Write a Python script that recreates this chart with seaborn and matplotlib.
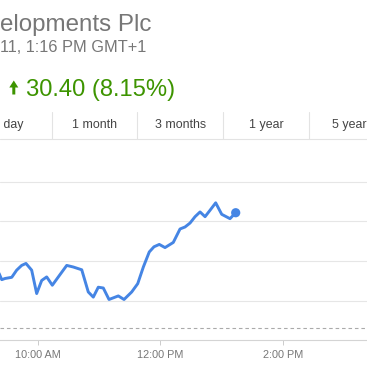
import matplotlib
matplotlib.use("Agg")
import matplotlib.pyplot as plt
from matplotlib.lines import Line2D
from matplotlib.patches import Polygon
import pandas as pd
import seaborn as sns

# ---- data ----
times = ["9:22", "9:24.8", "9:28", "9:34.6", "9:39.4", "9:44.3", "9:48.5", "9:54.1", "9:59",
         "10:03.9", "10:08.8", "10:14.3", "10:20.2", "10:28.4", "10:34.8", "10:43.1", "10:49.5",
         "10:54.4", "10:59.3", "11:04.2", "11:09.8", "11:18.9", "11:24.5", "11:32", "11:37.9",
         "11:43.4", "11:49.2", "11:53.8", "11:59", "12:04.6", "12:12.7", "12:19.3", "12:24.2",
         "12:29.1", "12:34", "12:38.9", "12:43.8", "12:48.6", "12:54.2", "13:00.1", "13:08.2",
         "13:13.8"]
prices = [387.0, 385.3, 385.6, 385.9, 387.7, 388.9, 389.4, 387.7, 381.8,
          385.1, 386.0, 383.9, 386.0, 388.9, 388.5, 387.8, 382.2,
          380.9, 383.4, 383.2, 380.3, 381.2, 380.3, 382.2, 384.3,
          388.5, 392.3, 393.6, 394.2, 393.4, 394.7, 398.1, 398.6,
          399.6, 401.2, 402.4, 401.2, 402.8, 404.7, 401.8, 400.7,
          402.2]
prev_close = 373.0
grid_values = [380, 390, 400, 410]
tick_times = ["10:00", "12:00", "14:00"]
tick_labels = ["10:00 AM", "12:00 PM", "2:00 PM"]
tabs = ["1 day", "1 month", "3 months", "1 year", "5 years"]
title = "elopments Plc"
subtitle = "11, 1:16 PM GMT+1"
change = "30.40 (8.15%)"
day = "2015-03-11"


def to_ts(s):
    h, m = s.split(":")
    return pd.Timestamp(day) + pd.Timedelta(hours=int(h), minutes=float(m))


df = pd.DataFrame({"time": [to_ts(t) for t in times], "price": prices})

sns.set_theme(style="white")
plt.rcParams["font.family"] = ["Liberation Sans", "DejaVu Sans"]

W = H = 367
fig = plt.figure(figsize=(W / 100, H / 100), dpi=100)
fig.patch.set_facecolor("white")


def fy(y):
    return 1 - y / H


def fx(x):
    return x / W


ax = fig.add_axes([0, fy(340.3), 1, fy(142.2) - fy(340.3)])
ax.set_facecolor("white")

for g in grid_values:
    ax.axhline(g, color="#e6e6e6", lw=0.8, zorder=0)
ax.axhline(prev_close, color="#aaaaaa", lw=0.8, ls=(0, (3.2, 2.6)), zorder=1)

line_color = "#4585e4"
sns.lineplot(data=df, x="time", y="price", ax=ax, color=line_color, lw=2.1, zorder=3)
ax.scatter(df["time"].iloc[-1], df["price"].iloc[-1], s=44, color=line_color, zorder=4,
           edgecolor="none")

ax.set_xlim(to_ts("9:23.1"), to_ts("15:22.3"))
ax.set_ylim(370, 420)
ax.set_yticks([])
ax.set_xlabel("")
ax.set_ylabel("")
ax.set_xticks([to_ts(t) for t in tick_times])
ax.set_xticklabels(tick_labels)
ax.tick_params(axis="x", direction="out", length=3.8, width=0.7, color="#cccccc",
               labelsize=7.8, labelcolor="#777777", pad=3.5, bottom=True)
for s in ["top", "left", "right"]:
    ax.spines[s].set_visible(False)
ax.spines["bottom"].set_color("#d4d4d4")
ax.spines["bottom"].set_linewidth(0.8)

# ---- header texts ----
fig.text(fx(-0.5), fy(31.5), title, fontsize=17.4, color="#777777", va="baseline", ha="left")
fig.text(fx(0.5), fy(51.7), subtitle, fontsize=11.8, color="#777777", va="baseline", ha="left")
fig.text(fx(25.5), fy(96), change, fontsize=17.1, color="#3d9400", va="baseline", ha="left")
# filled up-arrow glyph
arrow_pts = [(9.3, 87.5), (13.8, 80.5), (18.3, 87.5), (15.3, 87.5), (15.3, 94.5),
             (12.3, 94.5), (12.3, 87.5)]
fig.add_artist(Polygon([(fx(x), fy(y)) for x, y in arrow_pts], closed=True,
                       facecolor="#3d9400", edgecolor="none", transform=fig.transFigure))

# ---- tabs ----
tab_centers = [8.7, 94.5, 180.3, 266.3, 352.3]
for name, cx in zip(tabs, tab_centers):
    fig.text(fx(cx), fy(128.3), name, fontsize=8.9, color="#444444", va="baseline", ha="center")
for sx in [51.7, 137.3, 223.3, 309.3]:
    fig.add_artist(Line2D([fx(sx), fx(sx)], [fy(112), fy(139.3)], color="#e3e3e3", lw=0.8,
                          transform=fig.transFigure))
fig.add_artist(Line2D([0, 1], [fy(139.3), fy(139.3)], color="#e3e3e3", lw=0.8,
                      transform=fig.transFigure))

fig.savefig("out.png", dpi=100, facecolor="white")
